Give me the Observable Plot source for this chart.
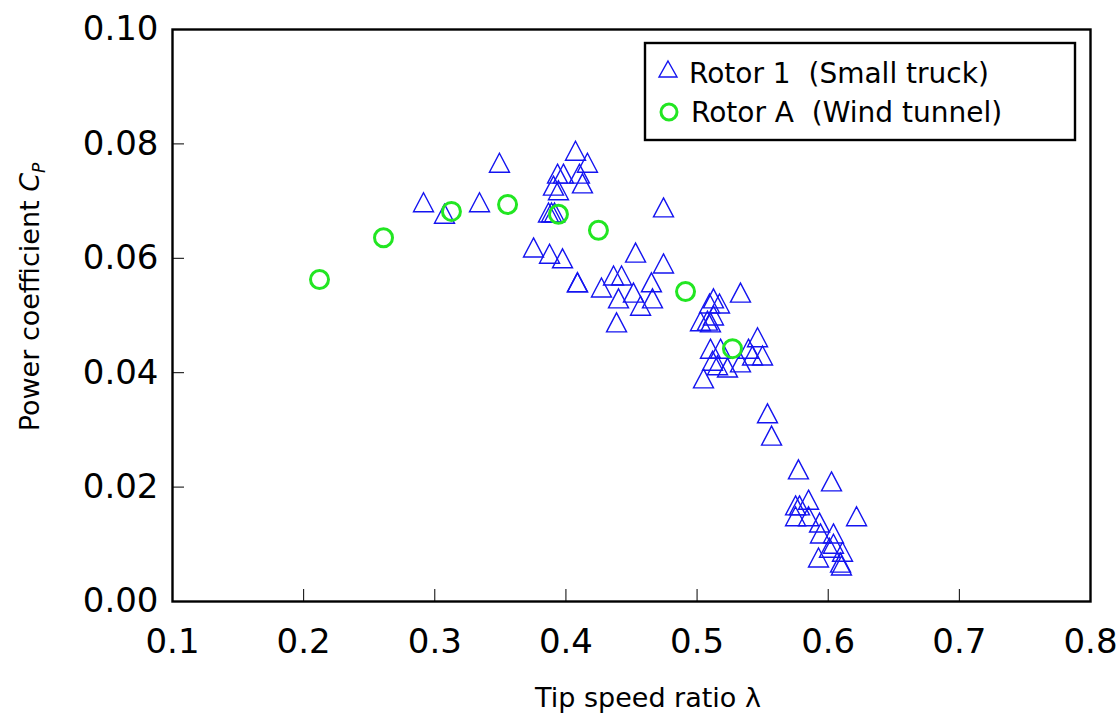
<!DOCTYPE html>
<html><head><meta charset="utf-8">
<script src="https://cdn.jsdelivr.net/npm/d3@7"></script>
<script src="https://cdn.jsdelivr.net/npm/@observablehq/plot@0.6"></script>
<style>body{margin:0;background:#fff}</style>
</head><body><div id="chart"></div>
<script>
// Rotor 1 (Small truck) — tip speed ratio and power coefficient
const rotor1Lambda = [0.2914,0.3074,0.3493,0.3341,0.3867,0.3890,0.3913,0.4073,0.4164,0.3936,0.3981,0.4103,0.3905,0.4126,0.3943,
  0.3753,0.3875,0.3974,0.4088,0.4088,0.4271,0.4363,0.4424,0.4401,0.4515,0.4531,0.4386,0.4569,0.4744,0.4652,0.4660,0.4744,
  0.5125,0.5171,0.5095,0.5125,0.5079,0.5026,0.5102,0.5331,
  0.5102,0.5179,0.5392,0.5461,0.5499,0.5423,0.5331,0.5232,0.5156,0.5118,0.5049,
  0.5537,0.5568,0.5773,0.6025,0.5850,0.5751,0.5781,0.6216,0.5751,0.5850,0.5934,0.5941,0.6040,0.6040,0.6010,0.6109,0.5926,0.6094,0.6101];
const rotor1Cp = [0.0698,0.0678,0.0767,0.0698,0.0680,0.0680,0.0680,0.0788,0.0767,0.0748,0.0748,0.0748,0.0727,0.0731,0.0719,
  0.0619,0.0608,0.0600,0.0558,0.0558,0.0549,0.0570,0.0570,0.0530,0.0540,0.0610,0.0488,0.0517,0.0591,0.0558,0.0530,0.0689,
  0.0530,0.0521,0.0521,0.0500,0.0491,0.0490,0.0488,0.0540,
  0.0442,0.0442,0.0442,0.0462,0.0430,0.0430,0.0418,0.0409,0.0413,0.0421,0.0390,
  0.0329,0.0290,0.0231,0.0210,0.0178,0.0168,0.0168,0.0149,0.0149,0.0149,0.0138,0.0119,0.0119,0.0101,0.0094,0.0087,0.0077,0.0068,0.0063];
// Rotor A (Wind tunnel)
const rotorALambda = [0.2121,0.2609,0.3127,0.3555,0.3943,0.4248,0.4912,0.5270];
const rotorACp = [0.0563,0.0636,0.0682,0.0694,0.0677,0.0649,0.0542,0.0442];

const seriesNames = ["Rotor 1  (Small truck)", "Rotor A  (Wind tunnel)"];
const xTicks = [0.1,0.2,0.3,0.4,0.5,0.6,0.7,0.8];
const yTicks = [0,0.02,0.04,0.06,0.08,0.10];
const xTitle = "Tip speed ratio λ";
const yTitle = "Power coefficient ";

const rotor1 = rotor1Lambda.map((x,i)=>({x, y: rotor1Cp[i]}));
const rotorA = rotorALambda.map((x,i)=>({x, y: rotorACp[i]}));

const blue = "#1414f0", green = "#22e622";
const triangle = { draw(ctx, size) { const r = Math.sqrt(size/Math.PI); ctx.moveTo(0,-0.95*r); ctx.lineTo(r,0.95*r); ctx.lineTo(-r,0.95*r); ctx.closePath(); } };

const W = 1117, H = 715, mL = 172, mR = 27, mT = 29, mB = 114;
const chart = Plot.plot({
  width: W, height: H, marginLeft: mL, marginRight: mR, marginTop: mT, marginBottom: mB,
  x: {domain: [0.1, 0.8]},
  y: {domain: [0, 0.1]},
  style: {fontFamily: "DejaVu Sans", background: "white", color: "black"},
  marks: [
    Plot.axisX({ticks: xTicks, tickSize: -12, tickPadding: 39, tickFormat: d3.format(".1f"), fontSize: 34, label: null}),
    Plot.axisY({ticks: yTicks, tickSize: -12, tickPadding: 26, tickFormat: d3.format(".2f"), fontSize: 34, label: null}),
    Plot.dot(rotor1, {x: "x", y: "y", symbol: triangle, r: 10, stroke: blue, strokeWidth: 1.4, fill: "none"}),
    Plot.dot(rotorA, {x: "x", y: "y", symbol: "circle", r: 9, stroke: green, strokeWidth: 3, fill: "none"}),
    Plot.frame({stroke: "black", strokeWidth: 2.4})
  ]
});
document.getElementById("chart").appendChild(chart);

const svg = d3.select(chart);
// axis titles
svg.append("text").attr("x", 648).attr("y", 707).attr("text-anchor", "middle")
  .attr("font-family", "DejaVu Sans").attr("font-size", 27).attr("fill", "black").text(xTitle);
const yt = svg.append("text").attr("transform", "translate(39,297) rotate(-90)").attr("text-anchor", "middle")
  .attr("font-family", "DejaVu Sans").attr("font-size", 27).attr("fill", "black");
yt.append("tspan").text(yTitle);
yt.append("tspan").attr("font-style", "italic").text("C");
yt.append("tspan").attr("font-style", "italic").attr("font-size", 17).attr("dy", 6).text("P");

// legend
const lg = svg.append("g");
lg.append("rect").attr("x", 645).attr("y", 43).attr("width", 430).attr("height", 97)
  .attr("fill", "white").attr("stroke", "black").attr("stroke-width", 2.4);
lg.append("path").attr("d", "M668,61L677,77L659,77Z").attr("fill", "none").attr("stroke", blue).attr("stroke-width", 1.4);
lg.append("circle").attr("cx", 669).attr("cy", 112).attr("r", 8).attr("fill", "none").attr("stroke", green).attr("stroke-width", 3);
lg.append("text").attr("x", 689).attr("y", 83).attr("text-anchor", "start").attr("font-family", "DejaVu Sans").attr("font-size", 28)
  .attr("fill", "black").style("white-space", "pre").text(seriesNames[0]);
lg.append("text").attr("x", 691).attr("y", 122).attr("text-anchor", "start").attr("font-family", "DejaVu Sans").attr("font-size", 28)
  .attr("fill", "black").style("white-space", "pre").text(seriesNames[1]);
</script></body></html>
